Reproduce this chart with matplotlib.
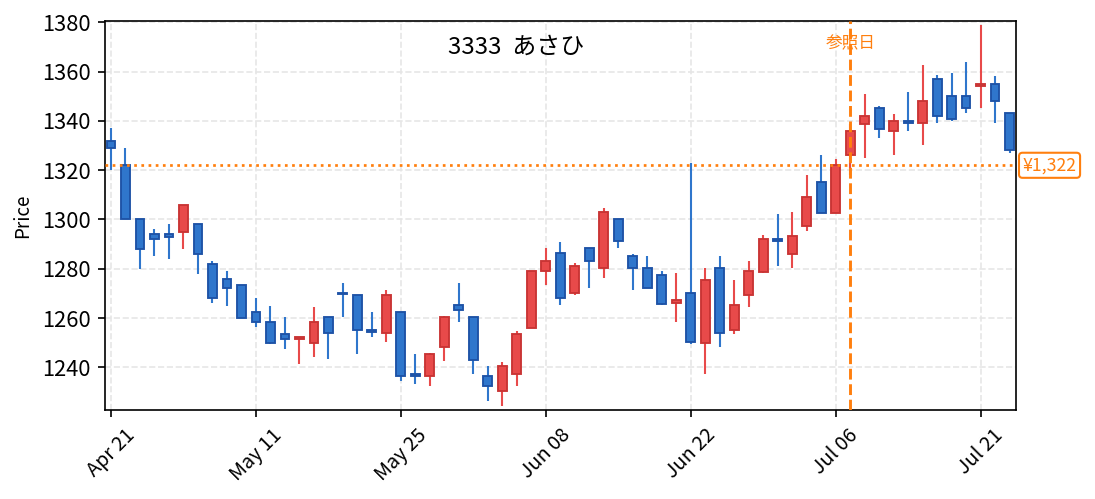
import matplotlib
matplotlib.use("Agg")
import matplotlib.pyplot as plt
import matplotlib.transforms as mtransforms

plt.rcParams["font.family"] = ["Noto Sans CJK JP", "DejaVu Sans"]

# daily OHLC, one entry per trading day
opens = [1332, 1322, 1300, 1294, 1294, 1295, 1298, 1282, 1276, 1273.5,
         1262.5, 1258.4, 1253.5, 1251.3, 1250, 1260.4, 1270.3, 1269.3, 1255.3, 1254,
         1262.5, 1237.3, 1236.3, 1248.1, 1265.2, 1260.4, 1236.5, 1230.3, 1237.2, 1256.1,
         1278.9, 1286.4, 1270.1, 1288.4, 1280.2, 1300.2, 1285.2, 1280.3, 1277.5, 1266,
         1270.2, 1250, 1280.4, 1255, 1269.2, 1278.8, 1292, 1286.1, 1297.2, 1315.3,
         1302.8, 1326, 1338.9, 1345.4, 1335.8, 1339.8, 1339, 1357, 1350.1, 1350.1,
         1354, 1355, 1343.2]
highs = [1337, 1329, 1300, 1296, 1298, 1306, 1298, 1283, 1279, 1273.5,
         1268, 1265, 1260.3, 1252.3, 1264.3, 1260.4, 1274.1, 1269.3, 1262.3, 1271.2,
         1262.5, 1245.3, 1246, 1261, 1274.1, 1260.4, 1240.4, 1242.3, 1254.9, 1279,
         1288.3, 1291, 1282.2, 1288.4, 1304.8, 1300.2, 1286.1, 1285, 1279, 1278.1,
         1323.1, 1280.2, 1285, 1275.3, 1283, 1293.8, 1302.1, 1302.9, 1317.9, 1326,
         1324.7, 1338.9, 1350.8, 1345.9, 1342.9, 1351.9, 1362.8, 1358.8, 1359.6, 1363.8,
         1378.8, 1358.1, 1343.2]
lows = [1320, 1300, 1280, 1285, 1284, 1288, 1278, 1266, 1265, 1260,
        1256.4, 1249.6, 1247.4, 1241.3, 1244.2, 1243.4, 1260.4, 1245.4, 1252.3, 1250.3,
        1234.5, 1233.2, 1232.4, 1242.6, 1258.4, 1237.3, 1226.3, 1224.3, 1232.4, 1256.1,
        1273.4, 1265.3, 1269.3, 1272.2, 1276.2, 1288.4, 1271.4, 1272.1, 1265.4, 1258.4,
        1249.6, 1237.4, 1248.2, 1253.5, 1264.5, 1278.3, 1281.1, 1280.3, 1295.5, 1302.8,
        1302.8, 1318, 1324.9, 1333, 1326, 1335.9, 1330.4, 1339.1, 1340.1, 1343.2,
        1345.2, 1339.1, 1327.1]
closes = [1329, 1300, 1288, 1292, 1293, 1306, 1286, 1268, 1272, 1260,
          1258.3, 1250, 1251.3, 1252.3, 1258.4, 1254.1, 1269.8, 1255, 1254.2, 1269.3,
          1236.5, 1236.5, 1245.4, 1260.4, 1263.1, 1243.1, 1232.3, 1240.5, 1253.5, 1279,
          1283.1, 1268, 1281.1, 1283, 1303, 1291.1, 1280.2, 1272.1, 1265.8, 1267.3,
          1250.1, 1275.4, 1254.1, 1265.3, 1279, 1292, 1291.3, 1293.3, 1309.1, 1302.8,
          1322.3, 1335.9, 1342.1, 1336.9, 1339.8, 1339, 1348, 1341.9, 1340.9, 1345.1,
          1355, 1348, 1328.1]

tick_labels = ["Apr 21", "May 11", "May 25", "Jun 08", "Jun 22", "Jul 06", "Jul 21"]
tick_every = 10

title = "3333  あさひ"
ref_index = 51
ref_price = 1322

UP_FACE, UP_EDGE = "#e84a4a", "#c93434"
DN_FACE, DN_EDGE = "#2f76cc", "#1d52a6"
ORANGE = "#ff7f0e"

fig = plt.figure(figsize=(7.3, 3.327), dpi=150)
ax = fig.add_axes([0.096, 0.178, 0.832, 0.78])

for i, (o, h, l, c) in enumerate(zip(opens, highs, lows, closes)):
    up = c >= o
    face = UP_FACE if up else DN_FACE
    edge = UP_EDGE if up else DN_EDGE
    ax.vlines(i, l, h, color=face, linewidth=1.0, zorder=2)
    ax.bar(i, abs(c - o), bottom=min(o, c), width=0.6, color=face,
           edgecolor=edge, linewidth=0.9, zorder=3)

ax.axhline(ref_price, color=ORANGE, linestyle=":", linewidth=1.3, zorder=4)
ax.axvline(ref_index, color=ORANGE, linestyle="--", linewidth=1.4, zorder=4)

trans = mtransforms.blended_transform_factory(ax.transData, ax.transAxes)
ax.text(ref_index, 0.962, "参照日", transform=trans, ha="center", va="top",
        color=ORANGE, fontsize=8)
trans_y = mtransforms.blended_transform_factory(ax.transAxes, ax.transData)
ax.text(1.007, ref_price, f"¥{ref_price:,}", transform=trans_y, ha="left", va="center",
        color=ORANGE, fontsize=8.5,
        bbox=dict(boxstyle="round,pad=0.2", facecolor="white", edgecolor=ORANGE, linewidth=1.0))

fig.text(516 / 1095, 0.906, title, ha="center", va="center", fontsize=11.5)

ticks = list(range(0, len(opens), tick_every))[:len(tick_labels)]
ax.set_xticks(ticks)
ax.set_xticklabels(tick_labels, rotation=45, ha="center", fontsize=9.5)
ax.tick_params(axis="y", labelsize=10.5)
ax.set_ylabel("Price", fontsize=9)
ax.set_xlim(-0.4, 62.45)
ax.set_ylim(1222.6, 1380.6)
ax.grid(True, linestyle="--", color="#e6e6e6", linewidth=0.8, zorder=0)
ax.set_axisbelow(True)

fig.savefig("out.png", dpi=150)
